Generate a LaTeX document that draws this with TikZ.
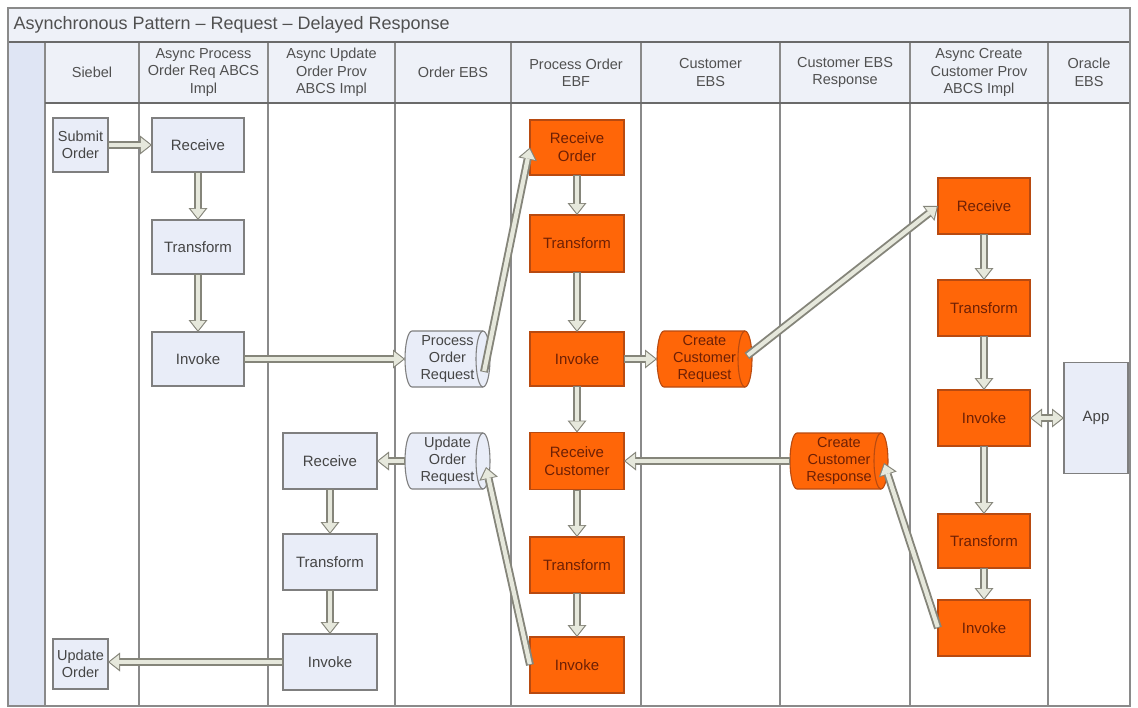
\documentclass[tikz,border=0pt]{standalone}
\usepackage{fontspec}
\setmainfont{Liberation Sans}
\usetikzlibrary{arrows.meta,calc,backgrounds}
\definecolor{lbox}{HTML}{E9EDF8}
\definecolor{lborder}{HTML}{7F7F7F}
\definecolor{obox}{HTML}{FF6608}
\definecolor{oborder}{HTML}{B84A10}
\definecolor{otext}{HTML}{6E2005}
\definecolor{btext}{HTML}{454545}
\definecolor{htext}{HTML}{505050}
\definecolor{agray}{HTML}{85857A}
\definecolor{afill}{HTML}{E6E8DC}
\definecolor{hdrfill}{HTML}{EEF1F8}
\definecolor{stripfill}{HTML}{DFE5F4}
\definecolor{gridline}{HTML}{8A8A8A}
\definecolor{darkline}{HTML}{6A6A6A}
\newcommand\drawcyl[2]{%
  \path[#2] ([xshift=7pt]#1.north west) -- ([xshift=-7pt]#1.north east)
    arc[start angle=90,end angle=-90,x radius=7pt,y radius=28pt]
    -- ([xshift=7pt]#1.south west)
    arc[start angle=270,end angle=90,x radius=7pt,y radius=28pt] -- cycle;
  \path[#2,fill=none] ([xshift=-7pt]#1.north east)
    arc[start angle=90,end angle=270,x radius=7pt,y radius=28pt];
}
\tikzset{
  lb/.style={draw=lborder, fill=lbox, line width=1.1pt, text=btext, font=\fontsize{15}{18}\selectfont, align=center, inner sep=1pt, outer sep=0pt},
  ob/.style={draw=oborder, fill=obox, line width=1.1pt, text=otext, font=\fontsize{15}{18}\selectfont, align=center, inner sep=1pt, outer sep=0pt},
  sz/.style 2 args={minimum width=#1, minimum height=#2},
  cyl/.style={align=center, inner sep=0pt, outer sep=0pt, minimum height=56pt, font=\fontsize{14.5}{17}\selectfont},
  lcyl/.style={draw=lborder, fill=lbox, line width=1.1pt},
  ocyl/.style={draw=oborder, fill=obox, line width=1.1pt},
  hdr/.style={align=center, text=htext, font=\fontsize{14.5}{17.5}\selectfont},
  fat/.style={draw=agray, line width=8pt, -{Triangle[length=12pt,width=19pt,line width=0pt]},
    postaction={draw=afill, line width=4.2pt, -{Triangle[length=9.4pt,width=14.6pt,line width=0pt]}, shorten >=1.7pt, shorten <=1pt}},
  fatboth/.style={draw=agray, line width=8pt, {Triangle[length=12pt,width=19pt,line width=0pt]}-{Triangle[length=12pt,width=19pt,line width=0pt]},
    postaction={draw=afill, line width=4.2pt, {Triangle[length=9.4pt,width=14.6pt,line width=0pt]}-{Triangle[length=9.4pt,width=14.6pt,line width=0pt]}, shorten >=1.7pt, shorten <=1.7pt}},
}
\begin{document}
\begin{tikzpicture}[x=1pt,y=-1pt]
\useasboundingbox (0,0) rectangle (1138,707);
\begin{pgfonlayer}{background}
  \fill[white] (0,0) rectangle (1138,707);
  \fill[hdrfill] (8,8) rectangle (1130,103);
  \fill[white] (45,103) rectangle (1130,706);
  \fill[stripfill] (8,42) rectangle (45,706);
  \foreach \xx in {45,139,268,395,511,641,780,910,1048}
    \draw[gridline, line width=1.3pt] (\xx,42) -- (\xx,706);
  \draw[darkline, line width=2pt] (8,42) -- (1130,42);
  \draw[darkline, line width=2pt] (45,103) -- (1130,103);
  \draw[gridline, line width=1.5pt] (8,8) rectangle (1130,706);
\end{pgfonlayer}

% title and headers
\node[anchor=west, text=htext, font=\fontsize{18}{20}\selectfont] (title) at (10,25) {Asynchronous Pattern – Request – Delayed Response};
\node[hdr] (h1) at (92,72.5) {Siebel};
\node[hdr] (h2) at (203.5,72.5) {Async Process\\Order Req ABCS\\Impl};
\node[hdr] (h3) at (331.5,72.5) {Async Update\\Order Prov\\ABCS Impl};
\node[hdr] (h4) at (453,72.5) {Order EBS};
\node[hdr] (h5) at (576,72.5) {Process Order\\EBF};
\node[hdr] (h6) at (710.5,72.5) {Customer\\EBS};
\node[hdr] (h7) at (845,72.5) {Customer EBS\\Response};
\node[hdr] (h8) at (979,72.5) {Async Create\\Customer Prov\\ABCS Impl};
\node[hdr] (h9) at (1089,72.5) {Oracle\\EBS};

% Siebel
\node[lb, sz={55pt}{54pt}, font=\fontsize{14.5}{17}\selectfont] (submit) at (80.5,145) {Submit\\Order};
\node[lb, sz={55pt}{50pt}, font=\fontsize{14.5}{17}\selectfont] (update) at (80.5,664) {Update\\Order};
% Async Process Order Req ABCS Impl
\node[lb, sz={92pt}{54pt}] (recv1) at (198,145) {Receive};
\node[lb, sz={92pt}{54pt}] (trans1) at (198,247) {Transform};
\node[lb, sz={92pt}{54pt}] (inv1) at (198,359) {Invoke};
% Async Update Order Prov ABCS Impl
\node[lb, sz={94pt}{56pt}] (recv2) at (330,461) {Receive};
\node[lb, sz={94pt}{56pt}] (trans6) at (330,562) {Transform};
\node[lb, sz={94pt}{56pt}] (inv6) at (330,662) {Invoke};
% Order EBS cylinders
\node[cyl, minimum width=85pt, text=btext] (por) at (447.5,359) {Process\\Order\\Request};
\node[cyl, minimum width=85pt, text=btext] (uor) at (447.5,461) {Update\\Order\\Request};
% Process Order EBF
\node[ob, sz={94pt}{55pt}] (recvord) at (577,147.5) {Receive\\Order};
\node[ob, sz={94pt}{57pt}] (trans2) at (577,243.5) {Transform};
\node[ob, sz={94pt}{54pt}] (inv2) at (577,359) {Invoke};
\node[ob, sz={94pt}{57pt}] (recvcust) at (577,461) {Receive\\Customer};
\node[ob, sz={94pt}{56pt}] (trans3) at (577,565) {Transform};
\node[ob, sz={94pt}{56pt}] (inv3) at (577,665) {Invoke};
% Customer EBS / Response cylinders
\node[cyl, minimum width=95pt, text=otext] (ccr) at (704.5,359) {Create\\Customer\\Request};
\node[cyl, minimum width=98pt, text=otext] (ccresp) at (839,461) {Create\\Customer\\Response};
% Async Create Customer Prov ABCS Impl
\node[ob, sz={92pt}{56pt}] (recv4) at (984,206) {Receive};
\node[ob, sz={92pt}{56pt}] (trans4) at (984,308) {Transform};
\node[ob, sz={92pt}{56pt}] (inv4) at (984,418) {Invoke};
\node[ob, sz={92pt}{54pt}] (trans5) at (984,541) {Transform};
\node[ob, sz={92pt}{56pt}] (inv5) at (984,628) {Invoke};
% Oracle EBS
\node[lb, sz={64pt}{111pt}] (app) at (1096,418) {App};

\begin{pgfonlayer}{background}
  \drawcyl{por}{lcyl}
  \drawcyl{uor}{lcyl}
  \drawcyl{ccr}{ocyl}
  \drawcyl{ccresp}{ocyl}
\end{pgfonlayer}

% connectors
\coordinate (porout) at ($(por.east)+(-6,13)$);
\coordinate (ccrout) at ($(ccr.east)+(-5,-3)$);
\coordinate (ccrespin) at ($(ccresp.east)+(-4,2)$);
\coordinate (uorin) at ($(uor.east)+(-4,6)$);

\draw[fat] (submit.east) -- (recv1.west);
\draw[fat] (recv1.south) -- (trans1.north);
\draw[fat] (trans1.south) -- (inv1.north);
\draw[fat] (inv1.east) -- (por.west);
\draw[fat] (porout) -- (recvord.west);
\draw[fat] (recvord.south) -- (trans2.north);
\draw[fat] (trans2.south) -- (inv2.north);
\draw[fat] (inv2.east) -- (ccr.west);
\draw[fat] (ccrout) -- (recv4.west);
\draw[fat] (recv4.south) -- (trans4.north);
\draw[fat] (trans4.south) -- (inv4.north);
\draw[fat] (inv4.south) -- (trans5.north);
\draw[fat] (trans5.south) -- (inv5.north);
\draw[fatboth] (inv4.east) -- (app.west);
\draw[fat] (inv5.west) -- (ccrespin);
\draw[fat] (ccresp.west) -- (recvcust.east);
\draw[fat] (inv2.south) -- (recvcust.north);
\draw[fat] (recvcust.south) -- (trans3.north);
\draw[fat] (trans3.south) -- (inv3.north);
\draw[fat] (inv3.west) -- (uorin);
\draw[fat] (uor.west) -- (recv2.east);
\draw[fat] (recv2.south) -- (trans6.north);
\draw[fat] (trans6.south) -- (inv6.north);
\draw[fat] (inv6.west) -- (inv6.west -| update.east);
\end{tikzpicture}
\end{document}
